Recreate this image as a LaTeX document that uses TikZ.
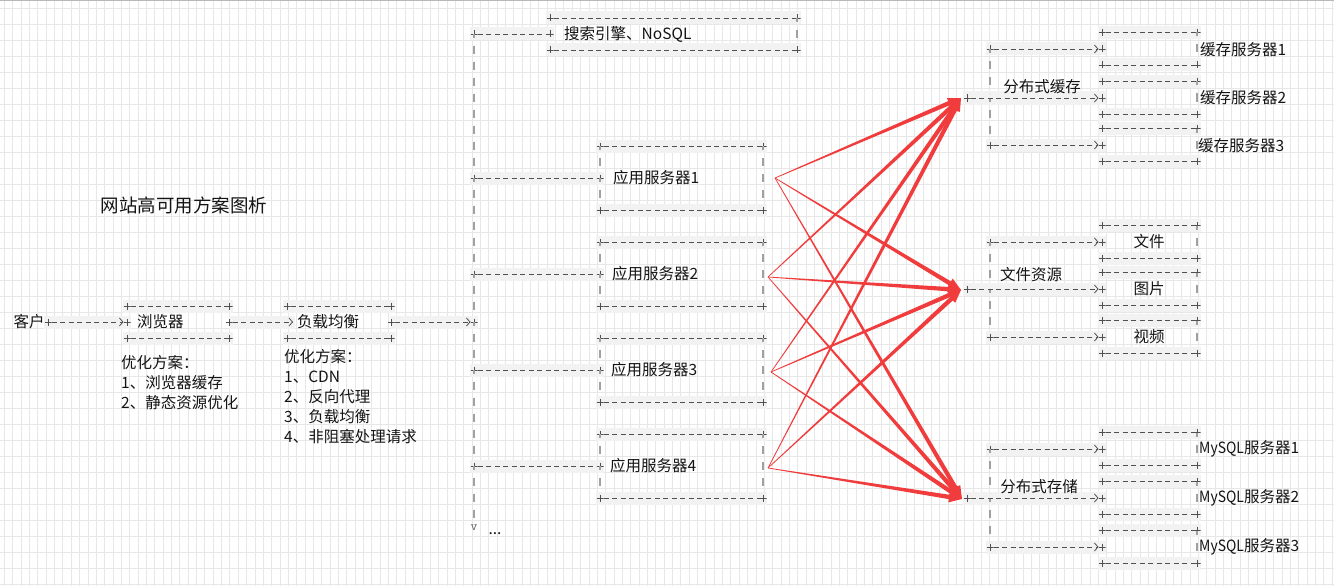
\documentclass[tikz,border=0pt]{standalone}
\usepackage{fontspec}
\newfontfamily\cjk{Noto Sans CJK SC}
\newfontfamily\cjknarrow{Noto Sans CJK SC}[FakeStretch=0.9]
\usetikzlibrary{arrows.meta,calc}
\pgfdeclarelayer{bg}
\pgfsetlayers{bg,main}
\definecolor{asc}{RGB}{80,80,80}
\definecolor{vbc}{RGB}{160,160,160}
\definecolor{bandc}{RGB}{242,242,242}
\definecolor{gridc}{RGB}{231,231,231}
\definecolor{redc}{RGB}{240,60,60}
\definecolor{txtc}{RGB}{20,20,20}
\tikzset{
  pl/.style={minimum size=7pt, inner sep=0pt, outer sep=0pt,
    path picture={\draw[asc,line width=0.8pt] (path picture bounding box.west) -- (path picture bounding box.east)
      (path picture bounding box.north) -- (path picture bounding box.south);}},
  hd/.style={asc, line width=0.8pt, dash pattern=on 5pt off 3.5pt},
  harr/.style={hd, -{Straight Barb[length=3.5pt,width=8pt]}},
  vseg/.style={vbc, line width=1.5pt, dash pattern=on 8pt off 8pt, dash phase=4pt, shorten >=5pt},
  txt/.style={font=\cjk\fontsize{15.5}{19}\selectfont, inner sep=0pt, text=txtc},
  ttl/.style={font=\cjk\fontsize{18.5}{22}\selectfont, inner sep=0pt, text=txtc},
}
\newcommand\band[3]{\fill[bandc] ({#1},{#3-6.5}) rectangle ({#2},{#3+6.5});}
\newcommand\abox[5]{%
  \begin{pgfonlayer}{bg}\band{#2-4}{#3+4}{#4}\band{#2-4}{#3+4}{#5}\end{pgfonlayer}
  \node[pl] (#1-tl) at (#2,#4) {}; \node[pl] (#1-tr) at (#3,#4) {};
  \node[pl] (#1-bl) at (#2,#5) {}; \node[pl] (#1-br) at (#3,#5) {};
  \draw[hd] (#1-tl) -- (#1-tr); \draw[hd] (#1-bl) -- (#1-br);}
\newcommand\taperto[2]{%
  \coordinate (tpb) at ($(#2)!13pt!(#1)$);
  \fill[redc] ($(#1)!0.35pt!90:(#2)$) -- ($(tpb)!2.2pt!90:(#2)$) -- ($(tpb)!5.5pt!90:(#2)$) -- (#2)
    -- ($(tpb)!5.5pt!-90:(#2)$) -- ($(tpb)!2.2pt!-90:(#2)$) -- ($(#1)!0.35pt!-90:(#2)$) -- cycle;}
\begin{document}
\begin{tikzpicture}[x=1pt,y=-1pt]
\useasboundingbox (0,0) rectangle (1334,586);
\begin{pgfonlayer}{bg}
\fill[white] (0,0) rectangle (1334,586);
\foreach \i in {0,...,159} {\draw[gridc,line width=0.6pt] ({4.3+8.35*\i},0) -- ({4.3+8.35*\i},586);}
\foreach \j in {0,...,36} {\draw[gridc,line width=0.6pt] (0,{8+16*\j}) -- (1334,{8+16*\j});}
\draw[gray!55,line width=1.5pt] (0,0.75) -- (1334,0.75);
% connector bands
\band{44}{131}{322}\band{229}{295}{322}\band{391}{478}{322}
\band{470}{554}{34}
\foreach \yy in {178,274,370,466} {\band{470}{604}{\yy}}
\foreach \yy in {98,289,498} {\band{963}{1106}{\yy}}
\foreach \yy in {49,145,242,337,449,547} {\band{986}{1106}{\yy}}
\end{pgfonlayer}

% title
\node[ttl] (title) at (184,205) {网站高可用方案图析};

% client -> browser -> load balancer
\node[txt] (kehu) at (29,322) {客户};
\node[pl] (pk) at (48,322) {};
\abox{br}{127}{229}{306}{338}
\node[pl] (br-l) at (127,322) {};
\node[pl] (br-r) at (229,322) {};
\node[txt,anchor=west] (browser) at (137,322) {浏览器};
\draw[harr] (pk) -- (br-l);
\abox{lb}{287}{391}{306}{338}
\node[txt,anchor=west] (lbt) at (297,322) {负载均衡};
\coordinate (lbin) at (293,322);
\node[pl] (lb-r) at (391,322) {};
\draw[harr] (br-r) -- (lbin);

\node[txt,anchor=west] (o1a) at (121,363) {优化方案：};
\node[txt,anchor=west] (o1b) at (121,383) {1、浏览器缓存};
\node[txt,anchor=west] (o1c) at (121,403) {2、静态资源优化};
\node[txt,anchor=west] (o2a) at (284,357) {优化方案：};
\node[txt,anchor=west] (o2b) at (284,377) {1、CDN};
\node[txt,anchor=west] (o2c) at (284,397) {2、反向代理};
\node[txt,anchor=west] (o2d) at (284,417) {3、负载均衡};
\node[txt,anchor=west] (o2e) at (284,437) {4、非阻塞处理请求};

% bus
\node[pl] (busA) at (474,34) {};
\node[pl] (bus1) at (474,178) {};
\node[pl] (bus2) at (474,274) {};
\node[pl] (busin) at (474,322) {};
\node[pl] (bus3) at (474,370) {};
\node[pl] (bus4) at (474,466) {};
\node[font=\ttfamily\fontsize{13}{13}\selectfont, text=asc, inner sep=0pt] (busv) at (474,528) {v};
\node[txt] (dots) at (495,534) {...};
\draw[harr] (lb-r) -- (busin);
\draw[vseg] (busA.center) -- (bus1.center);
\draw[vseg] (bus1.center) -- (bus2.center);
\draw[vseg] (bus2.center) -- (busin.center);
\draw[vseg] (busin.center) -- (bus3.center);
\draw[vseg] (bus3.center) -- (bus4.center);
\draw[vseg] (bus4.center) -- (busv.center);

% search box
\abox{se}{550}{797}{18}{50}
\node[pl] (se-l) at (550,34) {};
\draw[hd] (busA) -- (se-l);
\draw[vseg] (se-tr.center) -- (se-br.center);
\node[txt,anchor=west] (set) at (564,34) {搜索引擎、NoSQL};

% app servers
\foreach \n/\y/\b/\tx in {1/178/bus1/613, 2/274/bus2/612, 3/370/bus3/611, 4/466/bus4/610} {
  \abox{a\n}{600}{763}{\y-32}{\y+32}
  \node[pl] (a\n-l) at (600,\y) {};
  \draw[hd] (\b) -- (a\n-l);
  \draw[vseg] (a\n-tl.center) -- (a\n-l.center);
  \draw[vseg] (a\n-l.center) -- (a\n-bl.center);
  \draw[vseg] (a\n-tr.center) -- (a\n-br.center);
  \node[txt,anchor=west] (a\n-t) at (\tx,\y) {应用服务器\n};
}

% right groups
\foreach \g/\yc/\yt/\yb in {c/98/49/145, f/289/242/337, s/498/449/547} {
  \node[pl] (\g-in) at (967,\yc) {};
  \node[pl] (\g-t) at (990,\yt) {};
  \node[pl] (\g-b) at (990,\yb) {};
  \coordinate (\g-m) at (990,\yc);
  \draw[vseg] (\g-t.center) -- (\g-m);
  \draw[vseg] (\g-m) -- (\g-b.center);
  \abox{\g1}{1102}{1197}{\yt-16.5}{\yt+16}
  \abox{\g2}{1102}{1197}{\yc-16.5}{\yc+16}
  \abox{\g3}{1102}{1197}{\yb-16.5}{\yb+16}
  \node[pl] (\g1-l) at (1102,\yt) {};
  \node[pl] (\g2-l) at (1102,\yc) {};
  \node[pl] (\g3-l) at (1102,\yb) {};
  \draw[harr] (\g-t) -- (\g1-l);
  \draw[harr] (\g-in) -- (\g2-l);
  \draw[harr] (\g-b) -- (\g3-l);
  \draw[vseg] (\g1-tr.center) -- (\g1-br.center);
  \draw[vseg] (\g2-tr.center) -- (\g2-br.center);
  \draw[vseg] (\g3-tr.center) -- (\g3-br.center);
}
\node[txt] (ct) at (1042,87) {分布式缓存};
\node[txt] (ft) at (1031,275) {文件资源};
\node[txt] (st) at (1039,487) {分布式存储};
\node[txt,anchor=west] (c1t) at (1200,50) {缓存服务器1};
\node[txt,anchor=west] (c2t) at (1200,98) {缓存服务器2};
\node[txt,anchor=west] (c3t) at (1198,146) {缓存服务器3};
\node[txt] (f1t) at (1149,242) {文件};
\node[txt] (f2t) at (1149,289) {图片};
\node[txt] (f3t) at (1149,337) {视频};
\node[txt,anchor=west] (s1t) at (1199,449) {{\cjknarrow MySQL}服务器1};
\node[txt,anchor=west] (s2t) at (1199,498) {{\cjknarrow MySQL}服务器2};
\node[txt,anchor=west] (s3t) at (1199,547) {{\cjknarrow MySQL}服务器3};

% red arrows
\coordinate (s1) at (775,178);
\coordinate (s2) at (768,277);
\coordinate (s3) at (771,372);
\coordinate (s4) at (768,468);
\coordinate (tc) at (961,98);
\coordinate (tf) at (961,290);
\coordinate (ts) at (962,499);
\foreach \s in {s1,s2,s3,s4} {\foreach \t in {tc,tf,ts} {\taperto{\s}{\t}}}
\end{tikzpicture}
\end{document}
